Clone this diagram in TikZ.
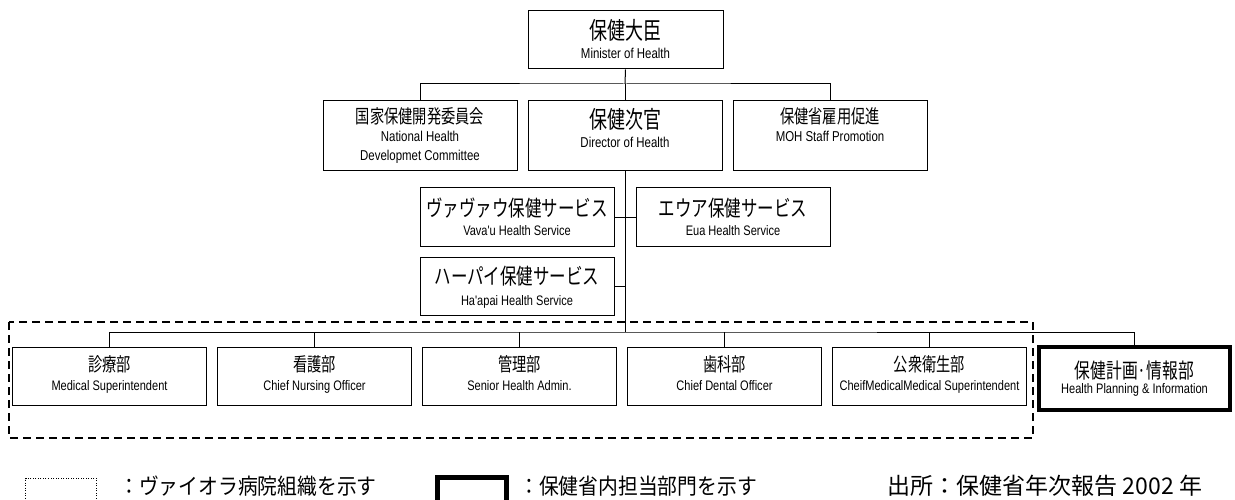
\documentclass[tikz,border=0pt]{standalone}
\usepackage{fontspec}
\newfontfamily\jp[FakeStretch=0.75]{Noto Sans CJK JP}
\newfontfamily\jpl[FakeStretch=0.9]{Noto Sans CJK JP}
\newfontfamily\jpn{Noto Sans CJK JP}
\newfontfamily\en[FakeStretch=0.8,Ligatures=TeXOff]{Liberation Sans}
\begin{document}
\begin{tikzpicture}[x=1pt,y=-1pt,
  box/.style={draw, line width=1pt, inner sep=0pt, minimum width=194pt, minimum height=58pt},
  tall/.style={box, minimum height=70pt},
  JS/.style={inner sep=0pt, font=\jp\fontsize{19}{22}\selectfont},
  JB/.style={inner sep=0pt, font=\jp\fontsize{24}{28}\selectfont},
  JM/.style={inner sep=0pt, font=\jp\fontsize{22}{26}\selectfont},
  JH/.style={inner sep=0pt, font=\jp\fontsize{21}{26}\selectfont},
  JL/.style={inner sep=0pt, font=\jpl\fontsize{22}{26}\selectfont},
  JN/.style={inner sep=0pt, font=\jpn\fontsize{23}{26}\selectfont},
  ET/.style={inner sep=0pt, anchor=base, font=\en\fontsize{14.3}{16}\selectfont},
  E/.style={inner sep=0pt, anchor=base, font=\en\fontsize{13.8}{16}\selectfont},
  link/.style={line width=1pt},
  group/.style={line width=1.5pt, dash pattern=on 8pt off 5pt},
]
\useasboundingbox (0,0) rectangle (1235,500);

% level 1
\node[box, minimum width=195pt] (min) at (625.5,40) {};
\node[JB] (minJ) at (625.5,30) {保健大臣};
\node[ET] (minE) at (625.5,59) {Minister of Health};

% level 2
\node[tall] (nat) at (420,136) {};
\node[JS] (natJ) at (420,116) {国家保健開発委員会};
\node[ET] (natE1) at (420,142) {National Health};
\node[ET] (natE2) at (420,161) {Developmet Committee};

\node[tall] (dir) at (625,136) {};
\node[JB] (dirJ) at (625,119) {保健次官};
\node[ET] (dirE) at (625,148) {Director of Health};

\node[tall] (moh) at (830,136) {};
\node[JS] (mohJ) at (830,116) {保健省雇用促進};
\node[ET] (mohE) at (830,142) {MOH Staff Promotion};

% level 3
\node[box] (vav) at (517,217) {};
\node[JM] (vavJ) at (517,208.5) {ヴァヴァウ保健サービス};
\node[E] (vavE) at (517,236) {Vava'u Health Service};

\node[box] (eua) at (733,217) {};
\node[JM] (euaJ) at (733,208.5) {エウア保健サービス};
\node[E] (euaE) at (733,236) {Eua Health Service};

\node[box] (hap) at (517,286) {};
\node[JM] (hapJ) at (517,276.5) {ハーパイ保健サービス};
\node[E] (hapE) at (517,305) {Ha'apai Health Service};

% departments
\node[box] (d1) at (109.5,376) {};
\node[JS] (d1J) at (109.5,364) {診療部};
\node[E] (d1E) at (109.5,390) {Medical Superintendent};

\node[box] (d2) at (314.5,376) {};
\node[JS] (d2J) at (314.5,364) {看護部};
\node[E] (d2E) at (314.5,390) {Chief Nursing Officer};

\node[box] (d3) at (519.5,376) {};
\node[JS] (d3J) at (519.5,364) {管理部};
\node[E] (d3E) at (519.5,390) {Senior Health Admin.};

\node[box] (d4) at (724.5,376) {};
\node[JS] (d4J) at (724.5,364) {歯科部};
\node[E] (d4E) at (724.5,390) {Chief Dental Officer};

\node[box] (d5) at (929.5,376) {};
\node[JS] (d5J) at (929.5,364) {公衆衛生部};
\node[E] (d5E) at (929.5,390) {CheifMedicalMedical Superintendent};

\node[box, line width=4pt, minimum width=191pt, minimum height=63pt] (hp) at (1134.5,378.5) {};
\node[JH] (hpJ) at (1134.5,370.5) {保健計画·情報部};
\node[E] (hpE) at (1134.5,393) {Health Planning \& Information};

% group frame
\draw[group] (9,322) rectangle (1033,438);

% connectors
\coordinate (b1) at (625,84);
\coordinate (b2) at (625,332);
\draw[link] (min.south) -- (b1);
\draw[link] (b1) -- (dir.north);
\draw[link] (nat.north) |- (b1) -| (moh.north);
\draw[link] (dir.south) -- (b2);
\draw[link] (vav.east) -- (eua.west);
\draw[link] (hap.east) -- (hap.east -| b2);
\draw[link] (d1.north) |- (b2) -| (hp.north);
\draw[link] (d2.north) -- (d2.north |- b2);
\draw[link] (d3.north) -- (d3.north |- b2);
\draw[link] (d4.north) -- (d4.north |- b2);
\draw[link] (d5.north) -- (d5.north |- b2);

% legend
\node[draw, line width=1pt, dash pattern=on 1pt off 1.5pt, inner sep=0pt, minimum width=71pt, minimum height=34pt, anchor=north west] (lg1) at (25,478) {};
\node[JL] (lg1t) at (248,486) {：ヴァイオラ病院組織を示す};
\node[draw, line width=4.5pt, inner sep=0pt, minimum width=69pt, minimum height=40pt, anchor=north west] (lg2) at (435,475) {};
\node[JL] (lg2t) at (638,486) {：保健省内担当部門を示す};
\node[JN] (src) at (1045,486) {出所：保健省年次報告 2002 年};
\end{tikzpicture}
\end{document}
